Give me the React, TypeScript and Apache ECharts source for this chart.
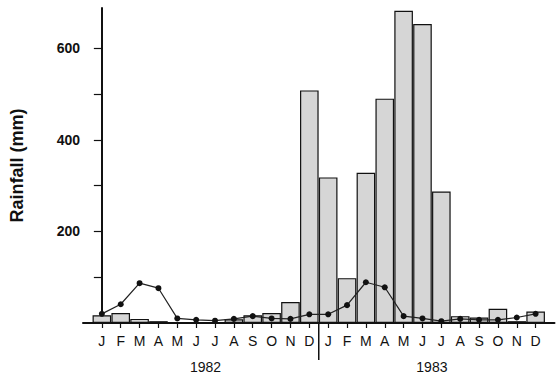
import React, { useEffect, useRef } from "react";
import * as echarts from "echarts";

const months = ["J", "F", "M", "A", "M", "J", "J", "A", "S", "O", "N", "D"];
const years = ["1982", "1983"];
const rainfall1982 = [17, 22, 9, 4, 2, 2, 1, 8, 17, 22, 46, 508];
const rainfall1983 = [318, 98, 328, 490, 682, 653, 287, 15, 12, 31, 4, 25];
const meanLine1982 = [20, 41, 87, 76, 10, 7, 5, 9, 15, 10, 9, 19];
const meanLine1983 = [19, 39, 89, 78, 15, 10, 4, 9, 7, 7, 12, 20];
const yTickValues = [100, 200, 300, 400, 500, 600];
const yLabelValues = [200, 400, 600];

const FONT = "'Liberation Sans', Arial, sans-serif";

export default function App() {
  const ref = useRef<HTMLDivElement>(null);
  useEffect(() => {
    if (!ref.current) return;
    const chart = echarts.init(ref.current, undefined, { renderer: "svg" });
    const monthLabels = [...months, ...months];
    const bars = [...rainfall1982, ...rainfall1983].map((v, i) => [i, v]);
    const line = [...meanLine1982, ...meanLine1983].map((v, i) => [i, v]);
    const idx = monthLabels.map((_, i) => i);
    const yearPos = [5.5, 17.5];
    chart.setOption({
      animation: false,
      backgroundColor: "#ffffff",
      grid: { left: 81, right: 1.5, top: 8, bottom: 54 },
      xAxis: [
        {
          type: "value",
          min: -1,
          max: 24,
          axisLine: { show: true, onZero: false, lineStyle: { color: "#111", width: 2 } },
          splitLine: { show: false },
          axisTick: { show: true, customValues: idx, length: 5, lineStyle: { color: "#111", width: 1.2 } },
          axisLabel: {
            customValues: idx,
            formatter: (v: number) => monthLabels[Math.round(v)] ?? "",
            fontSize: 14,
            color: "#111",
            margin: 11,
            fontFamily: FONT,
          },
        },
        {
          type: "value",
          min: -1,
          max: 24,
          position: "bottom",
          offset: 26,
          axisLine: { show: false },
          axisTick: { show: false },
          splitLine: { show: false },
          axisLabel: {
            customValues: yearPos,
            formatter: (v: number) => (v < 12 ? years[0] : years[1]),
            fontSize: 14,
            color: "#111",
            margin: 11,
            fontFamily: FONT,
          },
        },
      ],
      yAxis: {
        type: "value",
        min: 0,
        max: 688,
        axisLine: { show: true, lineStyle: { color: "#111", width: 2 } },
        splitLine: { show: false },
        axisTick: { show: true, customValues: yTickValues, length: 8, lineStyle: { color: "#111", width: 1.2 } },
        axisLabel: {
          customValues: yLabelValues,
          fontSize: 14,
          fontWeight: "bold",
          color: "#111",
          margin: 3,
          fontFamily: FONT,
        },
        name: "Rainfall (mm)",
        nameLocation: "middle",
        nameRotate: 90,
        nameGap: 57,
        nameTextStyle: { fontSize: 18, fontWeight: "bold", color: "#111", fontFamily: FONT },
      },
      series: [
        {
          type: "bar",
          data: bars,
          barWidth: 18.6,
          itemStyle: { color: "#d6d6d6", borderColor: "#111", borderWidth: 1.2 },
          z: 2,
        },
        {
          type: "line",
          data: line,
          symbol: "circle",
          symbolSize: 6,
          itemStyle: { color: "#111" },
          lineStyle: { color: "#222", width: 1.2 },
          z: 3,
        },
      ],
    });
    const sx = chart.convertToPixel({ xAxisIndex: 0 }, 11.5) as number;
    const y0 = chart.convertToPixel({ yAxisIndex: 0 }, 0) as number;
    chart.setOption({
      graphic: [
        {
          type: "line",
          shape: { x1: sx, y1: y0, x2: sx, y2: y0 + 37 },
          style: { stroke: "#111", lineWidth: 1.5 },
          z: 10,
        },
      ],
    });
    return () => chart.dispose();
  }, []);
  return (
    <div
      ref={ref}
      style={{ position: "absolute", left: 0, top: 0, width: 556, height: 377 }}
    />
  );
}
